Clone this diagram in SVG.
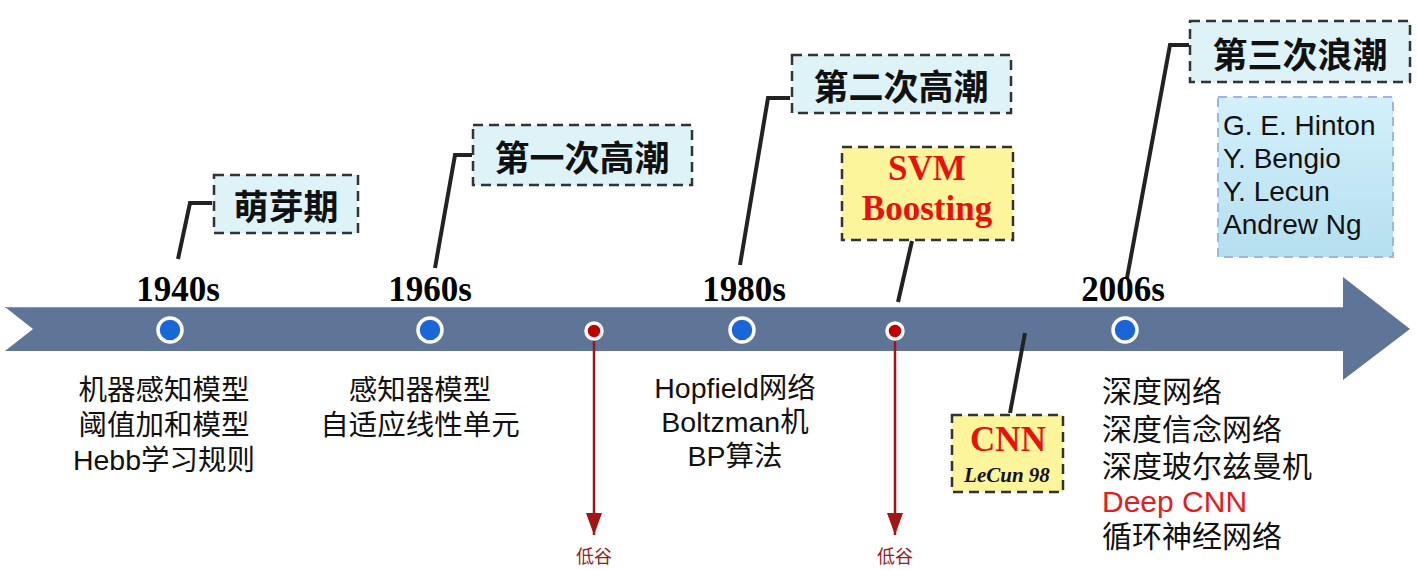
<svg xmlns="http://www.w3.org/2000/svg" width="1417" height="571" viewBox="0 0 1417 571">
<defs>
<marker id="redArrow" viewBox="0 0 22 16" refX="22" refY="8" markerWidth="22" markerHeight="16" markerUnits="userSpaceOnUse" orient="auto">
<path d="M0,0 L22,8 L0,16 Z" fill="#a31515"/>
</marker>
<linearGradient id="nameGrad" x1="0" y1="0" x2="0" y2="1">
<stop offset="0" stop-color="#d3f0fb"/>
<stop offset="1" stop-color="#b5dfef"/>
</linearGradient>
<style>
.year{font-family:"Liberation Serif","Times New Roman",serif;font-weight:bold;font-size:35px;fill:#000;text-anchor:middle}
.phase{font-family:"Noto Sans CJK SC","Noto Sans",sans-serif;font-weight:bold;font-size:35px;fill:#111;text-anchor:middle;dominant-baseline:central}
.phasebox{fill:#ddf3f7;stroke:#333;stroke-width:2.5;stroke-dasharray:10 6}
.ybox{fill:#fdf59c;stroke:#333;stroke-width:2.5;stroke-dasharray:10 6}
.desc{font-family:"Liberation Sans","Noto Sans CJK SC",sans-serif;font-size:28.5px;fill:#111;text-anchor:middle}
.desc2{font-family:"Liberation Sans","Noto Sans CJK SC",sans-serif;font-size:30px;fill:#111}
.desc2.red{fill:#e02020}
.leader{fill:none;stroke:#222;stroke-width:4}
.redline{stroke:#a31515;stroke-width:2.5}
.low{font-family:"Noto Sans CJK SC",sans-serif;font-size:18px;fill:#9b1c1c;text-anchor:middle}
.bdot{fill:#1a66d6;stroke:#fff;stroke-width:3.5}
.rdot{fill:#c00000;stroke:#fff;stroke-width:3.5}
.redT{font-family:"Liberation Serif","Times New Roman",serif;font-weight:bold;font-size:35px;fill:#e8120c;text-anchor:middle}
.name{font-family:"Liberation Sans","Noto Sans",sans-serif;font-size:28px;fill:#111}
</style>
</defs>
<rect width="1417" height="571" fill="#ffffff"/>

<g id="timeline">
<polygon points="5,307 1343,307 1343,277 1410,329 1343,380 1343,351 5,351 33,329" fill="#5f7597"/>
<line x1="5" y1="307.5" x2="1343" y2="307.5" stroke="#8597b2" stroke-width="1"/>
</g>

<g id="connectors">
<polyline class="leader" points="178,259 190,203 212,203"/>
<polyline class="leader" points="435,268 455,155 472,155"/>
<polyline class="leader" points="740,265 768,98 790,98"/>
<line class="leader" x1="912" y1="241" x2="898" y2="302"/>
<line class="leader" x1="1025" y1="333" x2="1010" y2="413"/>
<polyline class="leader" points="1127,278 1170,45 1189,45"/>
<line class="redline" x1="594" y1="340" x2="594" y2="535" marker-end="url(#redArrow)"/>
<line class="redline" x1="895" y1="340" x2="895" y2="535" marker-end="url(#redArrow)"/>
</g>

<g id="node-1940s">
<circle class="bdot" cx="170" cy="330" r="12"/>
<text class="year" x="178" y="301">1940s</text>
<rect class="phasebox" x="214" y="175" width="144" height="58"/>
<text class="phase" x="286" y="204">萌芽期</text>
<text class="desc" x="164" y="400">机器感知模型</text>
<text class="desc" x="164" y="435">阈值加和模型</text>
<text class="desc" x="164" y="470">Hebb学习规则</text>
</g>

<g id="node-1960s">
<circle class="bdot" cx="430" cy="330" r="12"/>
<text class="year" x="430" y="301">1960s</text>
<rect class="phasebox" x="473" y="125" width="219" height="60"/>
<text class="phase" x="582" y="155">第一次高潮</text>
<text class="desc" x="420" y="400">感知器模型</text>
<text class="desc" x="420" y="435">自适应线性单元</text>
</g>

<g id="node-low1">
<circle class="rdot" cx="594" cy="331" r="8"/>
<text class="low" x="594" y="563">低谷</text>
</g>

<g id="node-1980s">
<circle class="bdot" cx="742" cy="330" r="12"/>
<text class="year" x="744" y="301">1980s</text>
<rect class="phasebox" x="792" y="55" width="219" height="58"/>
<text class="phase" x="901" y="84">第二次高潮</text>
<text class="desc" x="735" y="398">Hopfield网络</text>
<text class="desc" x="735" y="432">Boltzman机</text>
<text class="desc" x="735" y="466">BP算法</text>
</g>

<g id="node-svm">
<rect class="ybox" x="842" y="147" width="171" height="93"/>
<text class="redT" x="927" y="180">SVM</text>
<text class="redT" x="927" y="220">Boosting</text>
</g>

<g id="node-low2">
<circle class="rdot" cx="895" cy="331" r="8"/>
<text class="low" x="895" y="563">低谷</text>
</g>

<g id="node-cnn">
<rect class="ybox" x="952" y="415" width="111" height="77"/>
<text class="redT" x="1008" y="451">CNN</text>
<text x="1007" y="482" font-family="Liberation Serif, Times New Roman, serif" font-weight="bold" font-style="italic" font-size="21" fill="#111" text-anchor="middle">LeCun 98</text>
</g>

<g id="node-2006s">
<circle class="bdot" cx="1125" cy="330" r="12"/>
<text class="year" x="1123" y="301">2006s</text>
<rect class="phasebox" x="1190" y="21" width="220" height="61"/>
<text class="phase" x="1300" y="52">第三次浪潮</text>
<text class="desc2" x="1102" y="402">深度网络</text>
<text class="desc2" x="1102" y="440">深度信念网络</text>
<text class="desc2" x="1102" y="477">深度玻尔兹曼机</text>
<text class="desc2 red" x="1102" y="512">Deep CNN</text>
<text class="desc2" x="1102" y="547">循环神经网络</text>
</g>

<g id="node-names">
<rect x="1218" y="97" width="175" height="160" fill="url(#nameGrad)" stroke="#9fb6e4" stroke-width="2" stroke-dasharray="9 6"/>
<text class="name" x="1223" y="135">G. E. Hinton</text>
<text class="name" x="1223" y="168">Y. Bengio</text>
<text class="name" x="1223" y="201">Y. Lecun</text>
<text class="name" x="1223" y="234">Andrew Ng</text>
</g>
</svg>
